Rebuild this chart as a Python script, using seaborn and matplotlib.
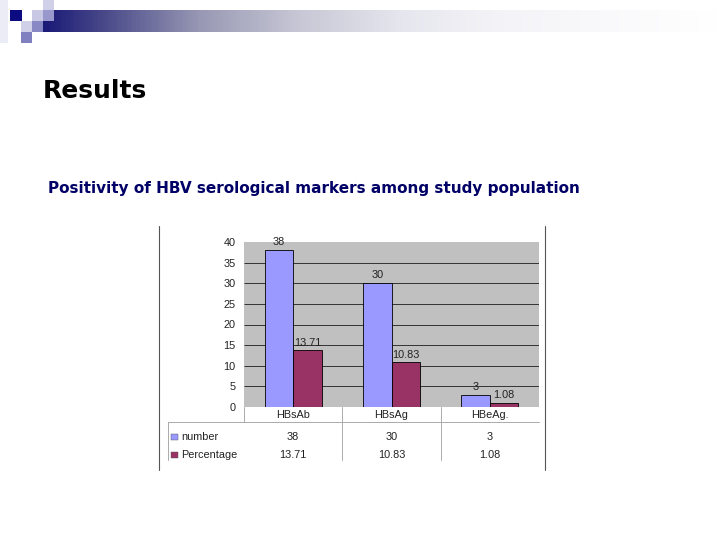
import numpy as np
import pandas as pd
import seaborn as sns
import matplotlib.pyplot as plt
import matplotlib.transforms as mtransforms
from matplotlib.colors import LinearSegmentedColormap
from matplotlib.patches import Rectangle
from matplotlib.lines import Line2D

# data
categories = ["HBsAb", "HBsAg", "HBeAg."]
series_names = ["number", "Percentage"]
number = [38, 30, 3]
percentage = [13.71, 10.83, 1.08]
number_labels = ["38", "30", "3"]
percentage_labels = ["13.71", "10.83", "1.08"]
yticks = [0, 5, 10, 15, 20, 25, 30, 35, 40]
series_colors = ["#9999FF", "#993366"]

df = pd.DataFrame({
    "marker": categories * 2,
    "series": [series_names[0]] * 3 + [series_names[1]] * 3,
    "value": number + percentage,
})

sns.set_style("white")
plt.rcParams["font.family"] = ["Liberation Sans", "DejaVu Sans"]

W, H = 720, 540
fig = plt.figure(figsize=(7.2, 5.4), dpi=100)


def fx(px):
    return px / W


def fy(py):
    return 1 - py / H


# header band with gradient
band = fig.add_axes([fx(43), fy(32), fx(720) - fx(43), 22 / H])
grad_cmap = LinearSegmentedColormap.from_list("band", [
    (0.0, "#1a1a78"), (0.09, "#4a4a8a"), (0.23, "#9898b4"),
    (0.38, "#c8c8d6"), (0.53, "#e6e6ee"), (0.68, "#f4f4f8"), (1.0, "#ffffff")])
band.imshow(np.linspace(0, 1, 400).reshape(1, -1), aspect="auto", cmap=grad_cmap)
band.axis("off")

# little squares in the corner
squares = [
    (0, 0, 8, 43, "#ececf6"),
    (10, 10, 12, 11, "#0c0c80"),
    (21, 21, 11, 11, "#d0d0e8"),
    (32, 10, 11, 11, "#c8c8e4"),
    (43, 0, 11, 10, "#d0d0e8"),
    (43, 10, 11, 11, "#9898cc"),
    (32, 21, 11, 11, "#8888c4"),
    (21, 32, 11, 11, "#8080c0"),
]
for x0, y0, w, h, c in squares:
    fig.add_artist(Rectangle((fx(x0), fy(y0 + h)), w / W, h / H,
                             transform=fig.transFigure, color=c, lw=0))

fig.text(fx(43), fy(91), "Results", fontsize=18, family="DejaVu Sans",
         fontweight="bold", va="center", ha="left", color="black")
fig.text(fx(48), fy(189), "Positivity of HBV serological markers among study population",
         fontsize=11, family="DejaVu Sans", fontweight="bold",
         va="center", ha="left", color="#000066")

# chart
fs = 7.8
txt_col = "#222222"
ax = fig.add_axes([fx(244), fy(407), fx(539) - fx(244), (407 - 242) / H])
ax.set_facecolor("#C0C0C0")
sns.barplot(data=df, x="marker", y="value", hue="series", palette=series_colors,
            width=0.58, saturation=1, edgecolor="black", linewidth=0.6,
            legend=False, ax=ax, zorder=3)
ax.set_ylim(0, 40)
ax.set_xlim(-0.5, 2.5)
ax.set_yticks(yticks)
ax.set_yticklabels([str(t) for t in yticks], fontsize=fs, color=txt_col)
ax.tick_params(axis="y", length=0, pad=6)
ax.set_xticks([])
ax.set_xlabel("")
ax.set_ylabel("")
for s in ax.spines.values():
    s.set_visible(False)
ax.hlines(yticks[1:-1], -0.5, 2.5, color="#333333", lw=0.7, zorder=1)

for cont, labs in zip(ax.containers, [number_labels, percentage_labels]):
    ax.bar_label(cont, labels=labs, padding=2, fontsize=fs, color=txt_col,
                 clip_on=False)

# data table underneath
bt = mtransforms.blended_transform_factory(ax.transData, fig.transFigure)
line_col = "#aaaaaa"
fig.add_artist(Line2D([-0.5, -0.5], [fy(407), fy(422)], transform=bt, color=line_col, lw=0.7))
for xb in [0.5, 1.5]:
    fig.add_artist(Line2D([xb, xb], [fy(407), fy(460)], transform=bt, color=line_col, lw=0.7))
fig.add_artist(Line2D([fx(168), fx(539)], [fy(422), fy(422)], transform=fig.transFigure,
                      color=line_col, lw=0.7))
fig.add_artist(Line2D([fx(168), fx(168)], [fy(422), fy(460)], transform=fig.transFigure,
                      color=line_col, lw=0.7))
# frame lines of the pasted chart
for xb in [159, 545]:
    fig.add_artist(Line2D([fx(xb), fx(xb)], [fy(226), fy(470)], transform=fig.transFigure,
                          color="#555555", lw=0.8))

for i, cat in enumerate(categories):
    fig.text(i, fy(415), cat, transform=bt, ha="center", va="center",
             fontsize=fs, color=txt_col)
    fig.text(i, fy(437), number_labels[i], transform=bt, ha="center", va="center",
             fontsize=fs, color=txt_col)
    fig.text(i, fy(455), percentage_labels[i], transform=bt, ha="center", va="center",
             fontsize=fs, color=txt_col)

for row_y, name, col in zip([437, 455], series_names, series_colors):
    fig.add_artist(Rectangle((fx(171), fy(row_y + 3)), 7 / W, 6 / H,
                             transform=fig.transFigure, facecolor=col,
                             edgecolor="#555555", lw=0.3))
    fig.text(fx(181), fy(row_y), name, ha="left", va="center",
             fontsize=fs, color=txt_col)

fig.savefig("out.png", dpi=100)
